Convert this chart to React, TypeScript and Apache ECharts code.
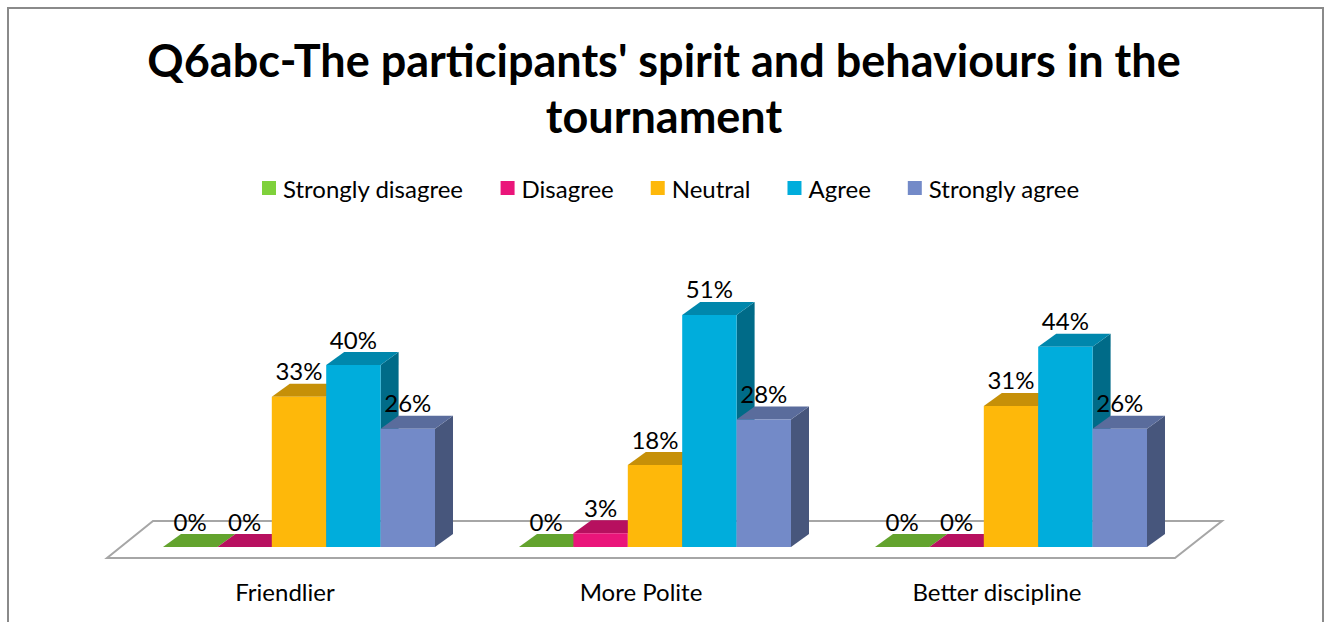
import React, { useEffect, useRef } from 'react';
import * as echarts from 'echarts';

const categories = ['Friendlier', 'More Polite', 'Better discipline'];
const seriesNames = ['Strongly disagree', 'Disagree', 'Neutral', 'Agree', 'Strongly agree'];
const stronglyDisagree = [0, 0, 0];
const disagree = [0, 3, 0];
const neutral = [33, 18, 31];
const agree = [40, 51, 44];
const stronglyAgree = [26, 28, 26];
const seriesValues = [stronglyDisagree, disagree, neutral, agree, stronglyAgree];
const colors = ['#7FD13B', '#EA157A', '#FEB80A', '#00ADDC', '#738AC8'];
const titleText = "Q6abc-The participants' spirit and behaviours in the\ntournament";

const FONT = 'Lato, "Open Sans", sans-serif';
const DEPTH_X = 18;
const DEPTH_Y = -13;
const GAP_FRAC = 42 / 356;

function shade(hex: string, f: number): string {
  const n = parseInt(hex.slice(1), 16);
  const r = Math.round(((n >> 16) & 255) * f);
  const g = Math.round(((n >> 8) & 255) * f);
  const b = Math.round((n & 255) * f);
  return `rgb(${r},${g},${b})`;
}

export default function App() {
  const ref = useRef<HTMLDivElement>(null);
  useEffect(() => {
    if (!ref.current) return;
    const chart = echarts.init(ref.current, undefined, { renderer: 'svg' });

    const barSeries = seriesNames.map((name, sIdx) => ({
      type: 'custom',
      name,
      itemStyle: { color: colors[sIdx] },
      z: 3,
      data: seriesValues[sIdx].map((v, i) => [i, v]),
      renderItem: (params: any, api: any) => {
        const cat = api.value(0);
        const v = api.value(1);
        const base = api.coord([cat, 0]);
        const top = api.coord([cat, v]);
        const band = api.size([1, 0])[0];
        const gap = band * GAP_FRAC;
        const w = (band - 2 * gap) / 5;
        const x0 = base[0] - band / 2 + gap + sIdx * w;
        const x1 = x0 + w;
        const yb = base[1];
        const yt = top[1];
        const c = colors[sIdx];
        return {
          type: 'group',
          children: [
            {
              type: 'polygon',
              shape: { points: [[x1, yt], [x1 + DEPTH_X, yt + DEPTH_Y], [x1 + DEPTH_X, yb + DEPTH_Y], [x1, yb]] },
              style: { fill: shade(c, 0.62) },
            },
            {
              type: 'polygon',
              shape: { points: [[x0, yt], [x1, yt], [x1 + DEPTH_X, yt + DEPTH_Y], [x0 + DEPTH_X, yt + DEPTH_Y]] },
              style: { fill: shade(c, 0.78) },
            },
            {
              type: 'rect',
              shape: { x: x0, y: yt, width: w, height: yb - yt },
              style: { fill: c },
            },
            {
              type: 'text',
              style: {
                text: v + '%',
                x: x0 + w / 2,
                y: yt - 26,
                align: 'center',
                verticalAlign: 'middle',
                fill: '#000',
                fontSize: 24,
                fontFamily: FONT,
              },
            },
          ],
        };
      },
    }));

    const floorSeries = {
      type: 'custom',
      name: 'floor',
      z: 1,
      silent: true,
      data: [[0, 0]],
      renderItem: (params: any, api: any) => {
        const cs = params.coordSys;
        const yb = cs.y + cs.height;
        const l = cs.x;
        const r = cs.x + cs.width;
        return {
          type: 'polygon',
          shape: {
            points: [[l - 14, yb + 11], [r - 14, yb + 11], [r + 33, yb - 26], [l + 32, yb - 26]],
          },
          style: { fill: '#ffffff', stroke: '#a6a6a6', lineWidth: 2 },
        };
      },
    };

    chart.setOption({
      animation: false,
      backgroundColor: '#ffffff',
      title: {
        text: titleText,
        left: 'center',
        top: 32,
        padding: 0,
        textStyle: { fontFamily: FONT, fontWeight: 'bold', fontSize: 45, lineHeight: 56, color: '#000' },
      },
      legend: {
        data: seriesNames,
        left: 262,
        top: 176,
        padding: 0,
        icon: 'rect',
        itemWidth: 14,
        itemHeight: 14,
        itemGap: 37,
        textStyle: { fontFamily: FONT, fontSize: 24, color: '#000', padding: [0, 0, 0, 2] },
      },
      grid: { left: 121, right: 139, top: 274, bottom: 75 },
      xAxis: {
        type: 'category',
        data: categories,
        axisLine: { show: false },
        axisTick: { show: false },
        axisLabel: {
          fontFamily: FONT,
          fontSize: 24,
          color: '#000',
          margin: 32,
          padding: [0, 28, 0, 0],
        },
      },
      yAxis: { type: 'value', min: 0, max: 60, show: false },
      graphic: [
        {
          type: 'polyline',
          shape: { points: [[8, 622], [8, 8], [1323, 8], [1323, 622]] },
          style: { stroke: '#8a8a8a', lineWidth: 2, fill: 'none' },
          silent: true,
        },
      ],
      series: [floorSeries, ...barSeries],
    });
    return () => chart.dispose();
  }, []);
  return <div ref={ref} style={{ position: 'absolute', left: 0, top: 0, width: 1328, height: 622 }} />;
}
